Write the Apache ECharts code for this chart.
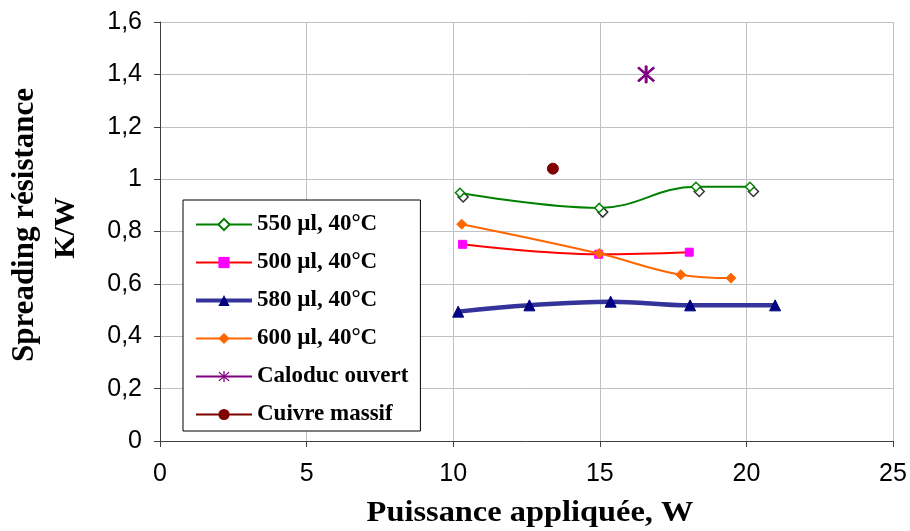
<!DOCTYPE html>
<html>
<head>
<meta charset="utf-8">
<script src="https://cdn.jsdelivr.net/npm/echarts@6/dist/echarts.min.js"></script>
<style>html,body{margin:0;padding:0;background:#fff}#c{width:910px;height:531px}</style>
</head>
<body>
<div id="c"></div>
<script>
// ---- data ----
const x550 = [10.23, 14.98, 18.28, 20.12];
const y550 = [0.948, 0.890, 0.971, 0.971];
const x550b = [10.34, 15.10, 18.39, 20.24];
const y550b = [0.932, 0.874, 0.953, 0.953];
const x500 = [10.32, 14.96, 18.05];
const y500 = [0.751, 0.713, 0.721];
const x580 = [10.17, 12.6, 15.37, 18.08, 20.98];
const y580 = [0.494, 0.518, 0.532, 0.518, 0.518];
const x600 = [10.29, 14.98, 17.76, 19.47];
const y600 = [0.828, 0.716, 0.635, 0.622];
const xCaloduc = [16.58];
const yCaloduc = [1.40];
const xCuivre = [13.40];
const yCuivre = [1.04];
const names = ['550 µl, 40°C', '500 µl, 40°C', '580 µl, 40°C', '600 µl, 40°C', 'Caloduc ouvert', 'Cuivre massif'];
const xTitle = 'Puissance appliquée, W';
const yTitle1 = 'Spreading résistance';
const yTitle2 = 'K/W';

const pts = (xs, ys) => xs.map((x, i) => [x, ys[i]]);
const serif = "'Liberation Serif', 'DejaVu Serif', serif";
const sans = "'Liberation Sans', Arial, sans-serif";
const star = 'path://M9,0L11,0L11,20L9,20Z M2.7,1.3L18.7,17.3L17.3,18.7L1.3,2.7Z M17.3,1.3L18.7,2.7L2.7,18.7L1.3,17.3Z';

const chart = echarts.init(document.getElementById('c'), null, {renderer: 'canvas'});
chart.setOption({
  animation: false,
  backgroundColor: '#fff',
  grid: {left: 160, right: 17, top: 22, bottom: 90, containLabel: false},
  xAxis: {
    type: 'value', min: 0, max: 25, interval: 5,
    axisLine: {show: true, onZero: false, lineStyle: {color: '#404040', width: 1}},
    axisTick: {show: true, length: 6, lineStyle: {color: '#404040'}},
    splitLine: {show: true, lineStyle: {color: '#c0c0c0', width: 1}},
    axisLabel: {fontSize: 25, fontFamily: sans, color: '#000', margin: 21}
  },
  yAxis: {
    type: 'value', min: 0, max: 1.6, interval: 0.2,
    axisLine: {show: true, onZero: false, lineStyle: {color: '#404040', width: 1}},
    axisTick: {show: true, length: 6, lineStyle: {color: '#404040'}},
    splitLine: {show: true, lineStyle: {color: '#c0c0c0', width: 1}},
    axisLabel: {fontSize: 25, fontFamily: sans, color: '#000', margin: 18,
      formatter: v => String(+v.toFixed(1)).replace('.', ',')}
  },
  legend: {
    data: names.map((n, i) => i === 2 ? {name: n, lineStyle: {width: 4}} : {name: n}),
    orient: 'vertical',
    left: 183, top: 200,
    padding: [13, 12, 5, 11],
    itemGap: 15,
    itemWidth: 56, itemHeight: 14,
    backgroundColor: '#fff',
    borderColor: '#000', borderWidth: 1, borderRadius: 0,
    textStyle: {fontSize: 23, fontWeight: 'bold', fontFamily: serif, color: '#000', lineHeight: 23}
  },
  graphic: [
    {type: 'text', x: 530, y: 513, scaleX: 1.08, style: {text: xTitle, font: "bold 30px 'Liberation Serif'", fill: '#000', align: 'center', verticalAlign: 'middle'}},
    {type: 'text', x: 25, y: 225, rotation: Math.PI / 2, style: {text: yTitle1, font: "bold 31px 'Liberation Serif'", fill: '#000', align: 'center', verticalAlign: 'middle'}},
    {type: 'text', x: 66, y: 228, rotation: Math.PI / 2, style: {text: yTitle2, font: "bold 30px 'Liberation Serif'", fill: '#000', align: 'center', verticalAlign: 'middle'}}
  ],
  series: [
    {name: names[0], type: 'line', data: pts(x550, y550), smooth: 0.4, color: '#008000',
      lineStyle: {color: '#008000', width: 2},
      symbol: 'diamond', symbolSize: 9, showAllSymbol: true,
      itemStyle: {color: '#fff', borderColor: '#008000', borderWidth: 1.5}, z: 3},
    {name: '550b', type: 'scatter', data: pts(x550b, y550b),
      symbol: 'diamond', symbolSize: 10,
      itemStyle: {color: '#fff', borderColor: '#000', borderWidth: 1.5}, z: 2},
    {name: names[1], type: 'line', data: pts(x500, y500), smooth: 0.4, color: '#ff0000',
      lineStyle: {color: '#ff0000', width: 2},
      symbol: 'rect', symbolSize: 8,
      itemStyle: {color: '#ff00ff', borderColor: '#ff00ff'}, z: 3},
    {name: names[2], type: 'line', data: pts(x580, y580), smooth: 0.4, color: '#333399',
      lineStyle: {color: '#333399', width: 4.5},
      symbol: 'triangle', symbolSize: 11,
      itemStyle: {color: '#000080', borderColor: '#000080'}, z: 3},
    {name: names[3], type: 'line', data: pts(x600, y600), smooth: 0.4, color: '#ff6600',
      lineStyle: {color: '#ff6600', width: 2},
      symbol: 'diamond', symbolSize: 10,
      itemStyle: {color: '#ff6600', borderColor: '#ff6600'}, z: 4},
    {name: names[4], type: 'line', data: pts(xCaloduc, yCaloduc), color: '#800080',
      lineStyle: {color: '#800080', width: 2},
      symbol: star, symbolSize: 17,
      itemStyle: {color: '#800080', borderColor: '#800080'}, z: 3},
    {name: names[5], type: 'line', data: pts(xCuivre, yCuivre), color: '#800000',
      lineStyle: {color: '#800000', width: 2},
      symbol: 'circle', symbolSize: 11,
      itemStyle: {color: '#800000', borderColor: '#800000'}, z: 3}
  ]
});
</script>
</body>
</html>
